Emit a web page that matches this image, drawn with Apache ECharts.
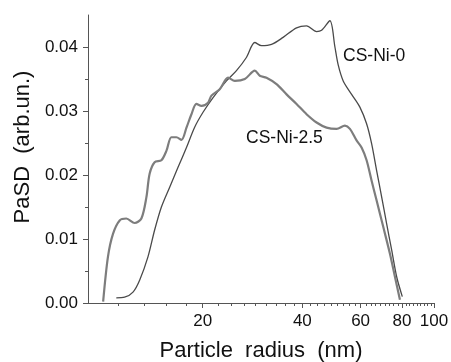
<!DOCTYPE html>
<html>
<head>
<meta charset="utf-8">
<script src="https://cdn.jsdelivr.net/npm/echarts@6/dist/echarts.min.js"></script>
<style>html,body{margin:0;padding:0;background:#fff;}#c{width:451px;height:362px;}</style>
</head>
<body>
<div id="c"></div>
<script>
// Particle radius (nm) and PaSD (arb.un.)
const radiusNi25 = [10.0, 10.34, 10.71, 11.22, 11.75, 12.45, 13.05, 13.51, 13.82, 14.31, 15.0, 15.54, 16.08, 16.65, 17.25, 17.86, 18.49, 19.14, 19.82, 20.75, 21.25, 22.51, 23.86, 25.0, 26.81, 28.73, 29.75, 31.17, 33.42, 35.84, 38.42, 41.19, 44.17, 47.35, 50.77, 53.8, 55.7, 58.34, 60.41, 62.56, 64.78, 67.08, 70.24, 73.59, 76.2, 78.9];
const pasdNi25 = [0.0002, 0.0072, 0.0108, 0.0129, 0.0132, 0.0125, 0.0132, 0.0165, 0.0202, 0.0220, 0.0223, 0.0238, 0.0259, 0.0259, 0.0255, 0.0274, 0.0295, 0.0311, 0.0308, 0.0313, 0.0324, 0.0334, 0.0352, 0.0347, 0.0350, 0.0363, 0.0355, 0.0352, 0.0342, 0.0326, 0.0311, 0.0295, 0.0282, 0.0274, 0.0272, 0.0277, 0.0272, 0.0254, 0.0243, 0.0223, 0.0191, 0.0160, 0.0119, 0.0077, 0.0041, 0.0005];

const radiusNi0 = [10.96, 11.61, 12.31, 12.9, 13.66, 14.31, 15.0, 15.89, 16.84, 17.86, 18.92, 20.04, 21.49, 23.59, 25.29, 27.13, 28.73, 30.1, 32.28, 34.99, 38.42, 41.19, 44.17, 45.74, 48.46, 50.18, 51.34, 53.16, 56.36, 59.7, 62.56, 64.78, 67.08, 69.46, 71.91, 74.47, 77.11, 80.2];
const pasdNi0 = [0.0008, 0.0009, 0.0017, 0.0036, 0.0072, 0.0114, 0.0150, 0.0181, 0.0212, 0.0243, 0.0275, 0.0298, 0.0321, 0.0347, 0.0363, 0.0384, 0.0407, 0.0402, 0.0404, 0.0415, 0.0430, 0.0433, 0.0424, 0.0426, 0.0441, 0.0400, 0.0372, 0.0347, 0.0326, 0.0306, 0.0280, 0.0249, 0.0207, 0.0166, 0.0124, 0.0083, 0.0041, 0.0010];

const xTickLabels = [20, 40, 60, 80, 100];
const xMinorTicks = [11.11, 13.33, 15.56, 17.78,
  22.22, 24.44, 26.67, 28.89, 31.11, 33.33, 35.56, 37.78,
  42.22, 44.44, 46.67, 48.89, 51.11, 53.33, 55.56, 57.78,
  62.22, 64.44, 66.67, 68.89, 71.11, 73.33, 75.56, 77.78,
  82.22, 84.44, 86.67, 88.89, 91.11, 93.33, 95.56, 97.78];
const yTickLabels = [0, 0.01, 0.02, 0.03, 0.04];
const yMinorTicks = [0.005, 0.015, 0.025, 0.035];
const seriesNames = ['CS-Ni-0', 'CS-Ni-2.5'];

const pairs = (xs, ys) => xs.map((x, i) => [x, ys[i]]);
const FONT = '"Liberation Sans", Arial, sans-serif';
const AX = '#555';

const chart = echarts.init(document.getElementById('c'), null, {renderer: 'canvas'});
chart.setOption({
  animation: false,
  backgroundColor: '#fff',
  grid: {left: 88, right: 17, top: 15, bottom: 59, containLabel: false, outerBoundsMode: 'none'},
  xAxis: [{
    type: 'log', logBase: 10, min: 9, max: 100,
    name: 'Particle  radius  (nm)', nameLocation: 'middle', nameGap: 37,
    nameTextStyle: {fontFamily: FONT, fontSize: 22, color: '#111'},
    axisLine: {show: true, lineStyle: {color: AX, width: 1}},
    axisTick: {show: true, inside: false, length: 5, lineStyle: {color: AX}, customValues: xTickLabels},
    axisLabel: {show: true, margin: 10, fontFamily: FONT, fontSize: 17, color: '#111', customValues: xTickLabels,
      formatter: v => String(Math.round(v))},
    splitLine: {show: false}, minorTick: {show: false}, minorSplitLine: {show: false}
  }, {
    type: 'log', logBase: 10, min: 9, max: 100, position: 'bottom',
    axisLine: {show: false},
    axisTick: {show: true, inside: false, length: 3, lineStyle: {color: AX}, customValues: xMinorTicks},
    axisLabel: {show: false},
    splitLine: {show: false}
  }],
  yAxis: [{
    type: 'value', min: 0, max: 0.045,
    name: 'PaSD  (arb.un.)', nameLocation: 'middle', nameGap: 53,
    nameTextStyle: {fontFamily: FONT, fontSize: 22, color: '#111', padding: [0, 0, 0, 24]},
    axisLine: {show: true, lineStyle: {color: AX, width: 1}},
    axisTick: {show: true, inside: false, length: 5, lineStyle: {color: AX}, customValues: yTickLabels},
    axisLabel: {fontFamily: FONT, fontSize: 17, color: '#111', margin: 10, customValues: yTickLabels, formatter: v => v.toFixed(2)},
    splitLine: {show: false}
  }, {
    type: 'value', min: 0, max: 0.045, position: 'left',
    axisLine: {show: false},
    axisTick: {show: true, inside: false, length: 3, lineStyle: {color: AX}, customValues: yMinorTicks},
    axisLabel: {show: false},
    splitLine: {show: false}
  }],
  series: [{
    name: seriesNames[0], type: 'line', xAxisIndex: 0, yAxisIndex: 0, showSymbol: false, smooth: 0.3,
    data: pairs(radiusNi0, pasdNi0),
    lineStyle: {color: '#4a4a4a', width: 1.3}
  }, {
    name: seriesNames[1], type: 'line', xAxisIndex: 0, yAxisIndex: 0, showSymbol: false, smooth: 0.3,
    data: pairs(radiusNi25, pasdNi25),
    lineStyle: {color: '#7d7d7d', width: 2.2}
  }],
  graphic: [
    {type: 'text', left: 343, top: 47, style: {text: seriesNames[0], font: '17.5px ' + FONT, fill: '#111'}},
    {type: 'text', left: 246, top: 129, style: {text: seriesNames[1], font: '17.5px ' + FONT, fill: '#111'}}
  ]
});
</script>
</body>
</html>
